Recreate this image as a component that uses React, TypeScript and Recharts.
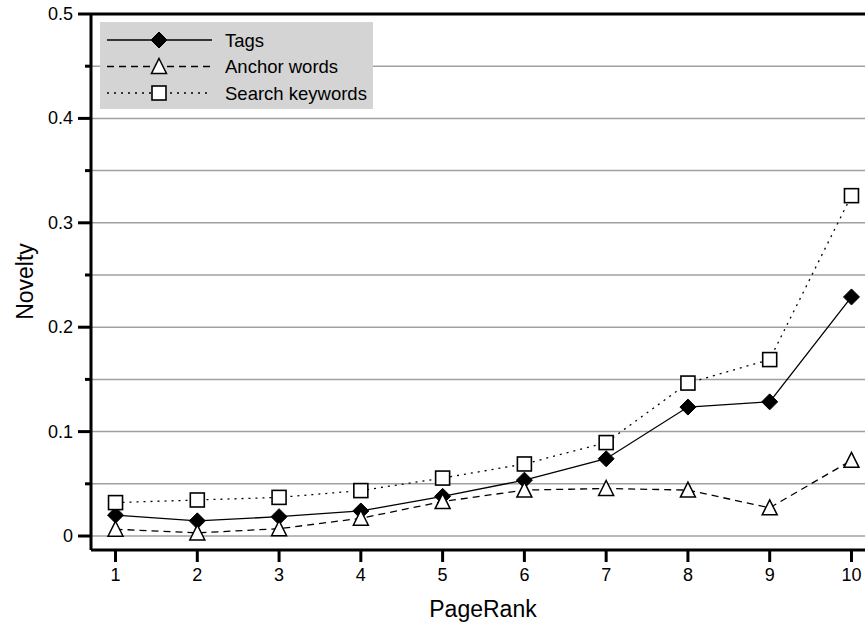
import React from 'react';
import {
  LineChart,
  Line,
  XAxis,
  YAxis,
  CartesianGrid,
  ReferenceLine,
  Legend
} from 'recharts';

const pageRanks = [1, 2, 3, 4, 5, 6, 7, 8, 9, 10];
const tags = [0.02, 0.0145, 0.0185, 0.024, 0.038, 0.0535, 0.074, 0.1235, 0.1285, 0.229];
const anchorWords = [0.0065, 0.003, 0.007, 0.017, 0.033, 0.044, 0.0455, 0.044, 0.027, 0.0725];
const searchKeywords = [0.032, 0.0345, 0.037, 0.0435, 0.0555, 0.069, 0.0895, 0.1465, 0.169, 0.326];
const yTicks = [0, 0.05, 0.1, 0.15, 0.2, 0.25, 0.3, 0.35, 0.4, 0.45, 0.5];
const yLabels = ['0', '', '0.1', '', '0.2', '', '0.3', '', '0.4', '', '0.5'];

const FONT = '"Liberation Sans", Arial, Helvetica, sans-serif';

const chartData = pageRanks.map((rank, i) => ({
  rank,
  tags: tags[i],
  anchor: anchorWords[i],
  search: searchKeywords[i]
}));

const Diamond = ({ cx, cy }: any) => (
  <polygon
    points={`${cx},${cy - 8} ${cx + 8},${cy} ${cx},${cy + 8} ${cx - 8},${cy}`}
    fill="#000"
    stroke="#000"
    strokeWidth={1}
  />
);

const Triangle = ({ cx, cy }: any) => (
  <polygon
    points={`${cx},${cy - 8} ${cx + 7.5},${cy + 7} ${cx - 7.5},${cy + 7}`}
    fill="#fff"
    stroke="#000"
    strokeWidth={1.5}
  />
);

const Square = ({ cx, cy }: any) => (
  <rect x={cx - 7} y={cy - 7} width={14} height={14} fill="#fff" stroke="#000" strokeWidth={1.6} />
);

const YTick = ({ x, y, index }: any) => {
  const label = yLabels[index];
  return (
    <g>
      <line x1={label ? x - 13 : x - 6} y1={y} x2={x} y2={y} stroke="#000" strokeWidth={3} />
      {label && (
        <text x={x - 18} y={y + 6} textAnchor="end" fontSize={18} fontFamily={FONT} fill="#000">
          {label}
        </text>
      )}
    </g>
  );
};

const XTick = ({ x, y, payload }: any) => (
  <g>
    <line x1={x} y1={y} x2={x} y2={y + 12} stroke="#000" strokeWidth={3} />
    <text x={x} y={y + 31} textAnchor="middle" fontSize={18} fontFamily={FONT} fill="#000">
      {payload.value}
    </text>
  </g>
);

// axis titles drawn by hand so they sit where the reference has them
const XTitle = () => (
  <text x={483} y={617} textAnchor="middle" fontSize={23} fontFamily={FONT} fill="#000">
    PageRank
  </text>
);

const YTitle = () => (
  <text x={33} y={281.5} textAnchor="middle" fontSize={23} fontFamily={FONT} fill="#000" transform="rotate(-90, 33, 281.5)">
    Novelty
  </text>
);

const legendRows = [
  { name: 'Tags', dash: undefined, Marker: Diamond },
  { name: 'Anchor words', dash: '7 5', Marker: Triangle },
  { name: 'Search keywords', dash: '2 5', Marker: Square }
];

const LegendBox = () => (
  <svg width={273} height={87} style={{ display: 'block' }}>
    <rect x={0} y={0} width={273} height={87} fill="#d4d4d4" />
    {legendRows.map((row, i) => {
      const cy = 18 + i * 26.5;
      const M = row.Marker;
      return (
        <g key={row.name}>
          <line x1={7} y1={cy} x2={112} y2={cy} stroke="#000" strokeWidth={1.3} strokeDasharray={row.dash} />
          <M cx={59} cy={cy} />
          <text x={125} y={cy + 6.5} fontSize={18.5} fontFamily={FONT} fill="#000">
            {row.name}
          </text>
        </g>
      );
    })}
  </svg>
);

export default function App() {
  return (
    <div style={{ position: 'absolute', left: 0, top: 0, width: 865, height: 623, overflow: 'hidden', background: '#fff' }}>
      <LineChart width={876} height={623} data={chartData} margin={{ top: 14, right: 0, left: 0, bottom: 0 }}>
        <CartesianGrid vertical={false} stroke="#a0a0a0" strokeWidth={1.5} />
        <XAxis
          dataKey="rank"
          type="number"
          domain={[0.7, 10.3]}
          ticks={pageRanks}
          tick={<XTick />}
          tickLine={false}
          tickSize={0}
          tickMargin={0}
          height={73}
          axisLine={{ stroke: '#000', strokeWidth: 3 }}
          label={<XTitle />}
        />
        <YAxis
          type="number"
          domain={[-0.0134, 0.5]}
          ticks={yTicks}
          tick={<YTick />}
          tickLine={false}
          tickSize={0}
          tickMargin={0}
          width={91}
          interval={0}
          allowDataOverflow
          axisLine={{ stroke: '#000', strokeWidth: 3 }}
          label={<YTitle />}
        />
        <ReferenceLine y={0.5} stroke="#000" strokeWidth={3} />
        <Legend
          layout="horizontal"
          verticalAlign="middle"
          align="center"
          wrapperStyle={{ position: 'absolute', left: 100, top: 22, width: 273, height: 87 }}
          content={() => <LegendBox />}
        />
        <Line dataKey="tags" name="Tags" stroke="#000" strokeWidth={1.3} dot={<Diamond />} isAnimationActive={false} />
        <Line dataKey="anchor" name="Anchor words" stroke="#000" strokeWidth={1.3} strokeDasharray="7 5" dot={<Triangle />} isAnimationActive={false} />
        <Line dataKey="search" name="Search keywords" stroke="#000" strokeWidth={1.3} strokeDasharray="2 5" dot={<Square />} isAnimationActive={false} />
      </LineChart>
    </div>
  );
}
